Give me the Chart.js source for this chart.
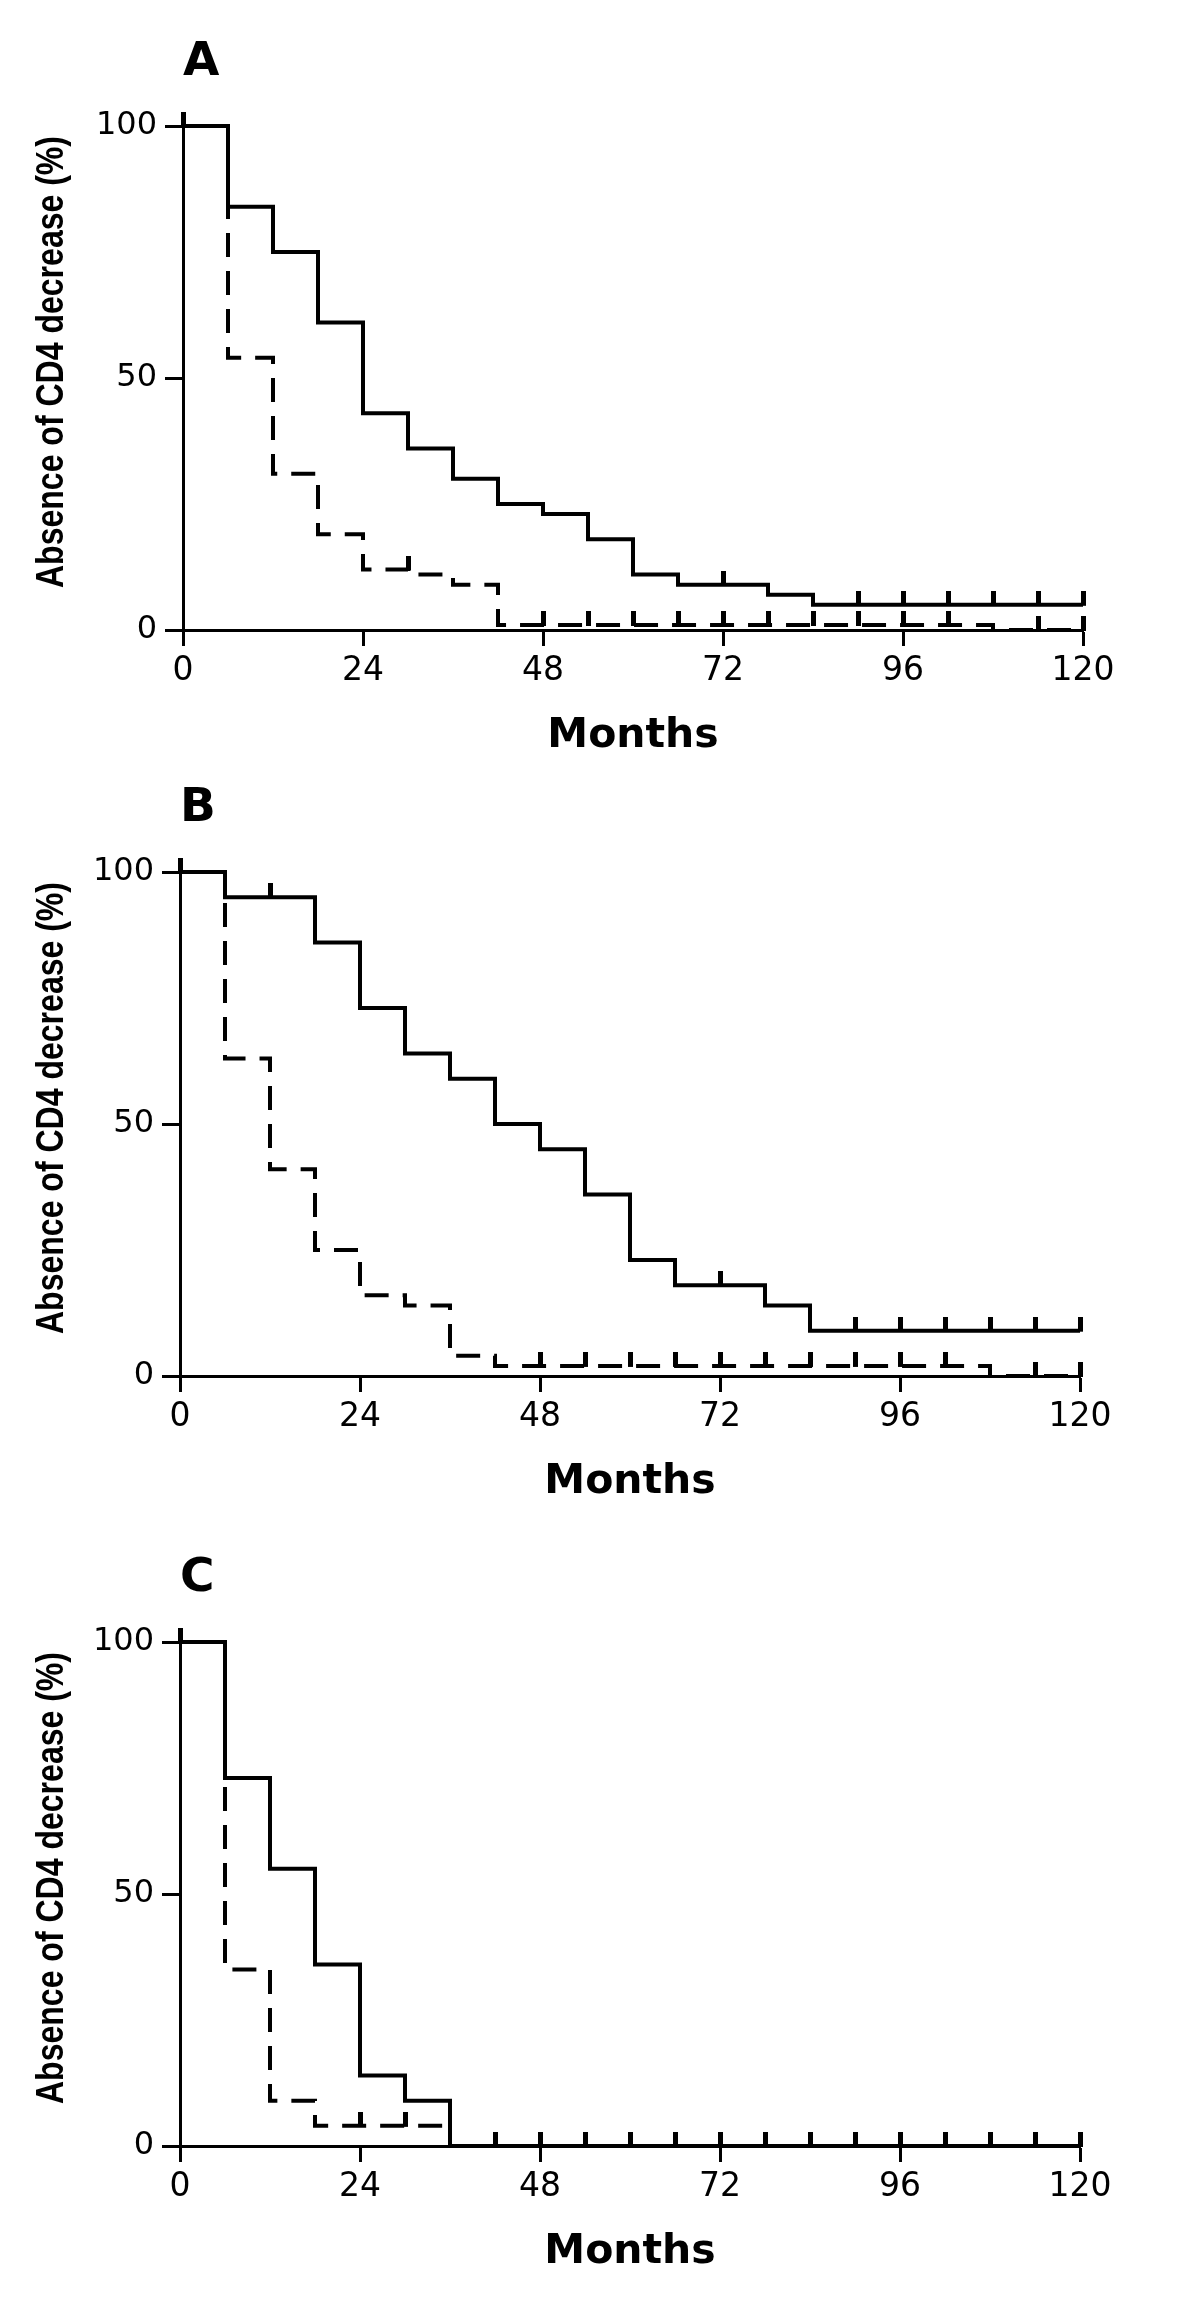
<!DOCTYPE html>
<html>
<head>
<meta charset="utf-8">
<script src="https://cdn.jsdelivr.net/npm/chart.js@4.4.1/dist/chart.umd.min.js"></script>
<style>
    body { margin: 0; background: #fff; width: 1200px; height: 2316px; position: relative; overflow: hidden; }
    .panel { position: absolute; left: 0; width: 1200px; height: 770px; }
</style>
</head>
<body>
<div class="panel" style="top:0px"><canvas id="chartA" width="1200" height="770"></canvas></div>
<div class="panel" style="top:746px"><canvas id="chartB" width="1200" height="770"></canvas></div>
<div class="panel" style="top:1516px"><canvas id="chartC" width="1200" height="770"></canvas></div>
<script>
// axis ticks and titles
const monthTicks = [0, 24, 48, 72, 96, 120];
const percentTicks = [0, 50, 100];
const xTitle = 'Months';
const yTitle = 'Absence of CD4 decrease (%)';

// panel A
const aSolidMonths = [0, 6, 12, 18, 24, 30, 36, 42, 48, 54, 60, 66, 78, 84, 120];
const aSolidPct    = [100, 84, 75, 61, 43, 36, 30, 25, 23, 18, 11, 9, 7, 5, 5];
const aSolidCensMonths = [0, 72, 90, 96, 102, 108, 114, 120];
const aSolidCensPct    = [100, 9, 5, 5, 5, 5, 5, 5];
const aDashMonths = [0, 6, 12, 18, 24, 30, 36, 42, 108, 120];
const aDashPct    = [100, 54, 31, 19, 12, 11, 9, 1, 0, 0];
const aDashCensMonths = [30, 48, 54, 60, 66, 72, 78, 84, 90, 96, 102, 114, 120];
const aDashCensPct    = [12, 1, 1, 1, 1, 1, 1, 1, 1, 1, 1, 0, 0];

// panel B
const bSolidMonths = [0, 6, 18, 24, 30, 36, 42, 48, 54, 60, 66, 78, 84, 120];
const bSolidPct    = [100, 95, 86, 73, 64, 59, 50, 45, 36, 23, 18, 14, 9, 9];
const bSolidCensMonths = [0, 12, 72, 90, 96, 102, 108, 114, 120];
const bSolidCensPct    = [100, 95, 18, 9, 9, 9, 9, 9, 9];
const bDashMonths = [0, 6, 12, 18, 24, 30, 36, 42, 108, 120];
const bDashPct    = [100, 63, 41, 25, 16, 14, 4, 2, 0, 0];
const bDashCensMonths = [48, 54, 60, 66, 72, 78, 84, 90, 96, 102, 114, 120];
const bDashCensPct    = [2, 2, 2, 2, 2, 2, 2, 2, 2, 2, 0, 0];

// panel C
const cSolidMonths = [0, 6, 12, 18, 24, 30, 36, 120];
const cSolidPct    = [100, 73, 55, 36, 14, 9, 0, 0];
const cSolidCensMonths = [0, 42, 48, 54, 60, 66, 72, 78, 84, 90, 96, 102, 108, 114, 120];
const cSolidCensPct    = [100, 0, 0, 0, 0, 0, 0, 0, 0, 0, 0, 0, 0, 0, 0];
const cDashMonths = [0, 6, 12, 18, 36];
const cDashPct    = [100, 35, 9, 4, 0];
const cDashCensMonths = [24, 30];
const cDashCensPct    = [4, 4];

// small vertical mark sitting on top of the curve
const censorMark = document.createElement('canvas');
censorMark.width = 5;
censorMark.height = 28;
const cm = censorMark.getContext('2d');
cm.fillStyle = '#000';
cm.fillRect(0, 0, 5, 15);

// narrow bold y title (the original uses a condensed face)
const narrowYTitle = {
    id: 'narrowYTitle',
    afterDraw(chart) {
        const ctx = chart.ctx;
        const area = chart.chartArea;
        ctx.save();
        ctx.font = 'bold 39px "Liberation Sans", Arial, sans-serif';
        ctx.fillStyle = '#000';
        ctx.textAlign = 'center';
        ctx.textBaseline = 'alphabetic';
        const w = ctx.measureText(yTitle).width;
        ctx.translate(63, area.top + 236);
        ctx.rotate(-Math.PI / 2);
        ctx.scale(452 / w, 1);
        ctx.fillText(yTitle, 0, 0);
        ctx.restore();
    }
};

function toPoints(xs, ys) {
    return xs.map((x, i) => ({ x: x, y: ys[i] }));
}

function stepLine(label, xs, ys, dash) {
    return {
        type: 'line',
        label: label,
        data: toPoints(xs, ys),
        stepped: true,
        borderColor: '#000',
        borderWidth: 4,
        borderDash: dash,
        borderCapStyle: 'butt',
        borderJoinStyle: 'miter',
        pointRadius: 0,
        fill: false,
        clip: false
    };
}

function censorSet(label, xs, ys) {
    return {
        type: 'scatter',
        label: label,
        data: toPoints(xs, ys),
        pointStyle: censorMark,
        pointRadius: 4,
        showLine: false,
        clip: false
    };
}

function makePanel(id, letter, plotLeft, plotRight, sets) {
    new Chart(document.getElementById(id), {
        type: 'line',
        data: { datasets: sets },
        plugins: [narrowYTitle],
        options: {
            responsive: false,
            animation: false,
            events: [],
            layout: { padding: { left: 0, right: 1200 - plotRight, top: 0, bottom: 0 } },
            plugins: {
                legend: { display: false },
                tooltip: { enabled: false },
                title: {
                    display: true,
                    text: letter,
                    align: 'start',
                    fullSize: false,
                    color: '#000',
                    font: { family: 'DejaVu Sans', size: 47, weight: 'bold', lineHeight: 1 },
                    padding: { top: 39, bottom: 40 }
                }
            },
            scales: {
                x: {
                    type: 'linear',
                    min: 0,
                    max: 120,
                    afterBuildTicks: s => { s.ticks = monthTicks.map(v => ({ value: v })); },
                    afterFit: s => { s.height = 140; },
                    grid: { drawOnChartArea: false, drawTicks: true, tickLength: 16, tickWidth: 3, tickColor: '#000' },
                    border: { display: true, color: '#000', width: 3 },
                    ticks: { color: '#000', font: { family: 'DejaVu Sans', size: 33 }, padding: 6, maxRotation: 0, autoSkip: false },
                    title: {
                        display: true,
                        text: xTitle,
                        color: '#000',
                        font: { family: 'DejaVu Sans', size: 41, weight: 'bold', lineHeight: 1 },
                        padding: { top: 0, bottom: 13 }
                    }
                },
                y: {
                    min: 0,
                    max: 100,
                    afterBuildTicks: s => { s.ticks = percentTicks.map(v => ({ value: v })); },
                    afterFit: s => { s.width = plotLeft; },
                    grid: { drawOnChartArea: false, drawTicks: true, tickLength: 18, tickWidth: 3, tickColor: '#000' },
                    border: { display: true, color: '#000', width: 3 },
                    ticks: { color: '#000', font: { family: 'DejaVu Sans', size: 32 }, padding: 8 },
                    title: { display: false }
                }
            }
        }
    });
}

makePanel('chartA', 'A', 183, 1083, [
    stepLine('Group 1', aSolidMonths, aSolidPct, []),
    stepLine('Group 2', aDashMonths, aDashPct, [24, 14]),
    censorSet('Group 1 censored', aSolidCensMonths, aSolidCensPct),
    censorSet('Group 2 censored', aDashCensMonths, aDashCensPct)
]);

makePanel('chartB', 'B', 180, 1080, [
    stepLine('Group 1', bSolidMonths, bSolidPct, []),
    stepLine('Group 2', bDashMonths, bDashPct, [24, 14]),
    censorSet('Group 1 censored', bSolidCensMonths, bSolidCensPct),
    censorSet('Group 2 censored', bDashCensMonths, bDashCensPct)
]);

makePanel('chartC', 'C', 180, 1080, [
    stepLine('Group 1', cSolidMonths, cSolidPct, []),
    stepLine('Group 2', cDashMonths, cDashPct, [24, 14]),
    censorSet('Group 1 censored', cSolidCensMonths, cSolidCensPct),
    censorSet('Group 2 censored', cDashCensMonths, cDashCensPct)
]);
</script>
</body>
</html>
